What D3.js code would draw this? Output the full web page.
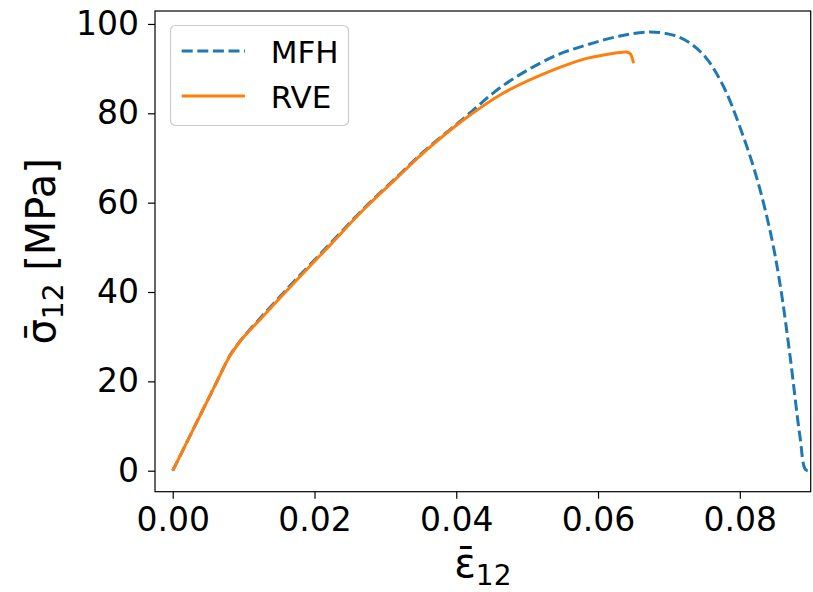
<!DOCTYPE html>
<html>
<head>
<meta charset="utf-8">
<script src="https://cdn.jsdelivr.net/npm/d3@7"></script>
<style>
  html, body { margin: 0; padding: 0; background: #fff; }
  svg { display: block; font-family: "DejaVu Sans", sans-serif; }
</style>
</head>
<body>
<svg id="chart" width="813" height="592"></svg>
<script>
// Shear strain (ε̄12) vs shear stress (σ̄12, MPa)
const mfhStrain = [0, 0.002, 0.004, 0.006, 0.008, 0.0092, 0.0105, 0.0122, 0.0145, 0.0175, 0.0222, 0.0269, 0.0316, 0.0354, 0.041, 0.0466, 0.0537, 0.0584, 0.0631, 0.0673, 0.0706, 0.0730, 0.0753, 0.0777, 0.0800, 0.0824, 0.0845, 0.0858, 0.0871, 0.0885, 0.0893, 0.0900];
const mfhStress = [0, 6.4, 12.8, 19.2, 25.6, 28.4, 30.9, 33.9, 37.9, 43.0, 50.8, 58.6, 65.7, 71.4, 78.8, 86.2, 92.7, 95.3, 97.3, 98.2, 97.5, 95.7, 92.3, 86.0, 77.0, 65.5, 52.0, 40.5, 25.5, 7.5, 0.2, 0];

const rveStrain = [0, 0.002, 0.004, 0.006, 0.008, 0.0092, 0.0105, 0.0122, 0.0145, 0.0175, 0.0222, 0.0269, 0.0316, 0.0354, 0.041, 0.0466, 0.0537, 0.0584, 0.0610, 0.0631, 0.0640, 0.0645, 0.0648, 0.0650];
const rveStress = [0, 6.4, 12.8, 19.2, 25.5, 28.3, 30.8, 33.6, 37.6, 42.7, 50.5, 58.4, 65.5, 71.2, 78.5, 84.5, 89.7, 92.3, 93.1, 93.6, 93.7, 93.4, 92.5, 91.2];

const seriesNames = ["MFH", "RVE"];
const seriesColors = ["#1f77b4", "#ff7f0e"];

const xTicks = [0, 0.02, 0.04, 0.06, 0.08];
const yTicks = [0, 20, 40, 60, 80, 100];

const svg = d3.select("#chart");
const plot = { left: 155, right: 810.7, top: 11, bottom: 491.7 };

const x = d3.scaleLinear().domain([-0.0025, 0.09]).range([plot.left, plot.right]);
const y = d3.scaleLinear().domain([-4.7, 102.9]).range([plot.bottom, plot.top]);

svg.append("defs").append("clipPath").attr("id", "plot-clip")
  .append("rect")
  .attr("x", plot.left).attr("y", plot.top)
  .attr("width", plot.right - plot.left).attr("height", plot.bottom - plot.top);

const line = d3.line()
  .x(d => x(d[0]))
  .y(d => y(d[1]))
  .curve(d3.curveCatmullRom.alpha(0.5));

const mfh = mfhStrain.map((v, i) => [v, mfhStress[i]]);
const rve = rveStrain.map((v, i) => [v, rveStress[i]]);

const curves = svg.append("g").attr("clip-path", "url(#plot-clip)");
curves.append("path")
  .datum(mfh)
  .attr("d", line)
  .attr("fill", "none")
  .attr("stroke", seriesColors[0])
  .attr("stroke-width", 3)
  .attr("stroke-dasharray", "11,4.6");
curves.append("path")
  .datum(rve)
  .attr("d", line)
  .attr("fill", "none")
  .attr("stroke", seriesColors[1])
  .attr("stroke-width", 3);

// Axes
const xAxis = d3.axisBottom(x).tickValues(xTicks).tickFormat(d3.format(".2f")).tickSize(7).tickPadding(9);
const yAxis = d3.axisLeft(y).tickValues(yTicks).tickFormat(d3.format("d")).tickSize(7).tickPadding(9);

const gx = svg.append("g").attr("transform", `translate(0,${plot.bottom})`).call(xAxis);
const gy = svg.append("g").attr("transform", `translate(${plot.left},0)`).call(yAxis);
[gx, gy].forEach(g => {
  g.select(".domain").remove();
  g.selectAll(".tick line").attr("stroke", "#000").attr("stroke-width", 1.2);
  g.selectAll(".tick text").attr("fill", "#000").style("font-size", "33px").style("font-family", "DejaVu Sans");
});

// Frame
svg.append("rect")
  .attr("x", plot.left).attr("y", plot.top)
  .attr("width", plot.right - plot.left).attr("height", plot.bottom - plot.top)
  .attr("fill", "none").attr("stroke", "#000").attr("stroke-width", 1.2);

// Axis labels
const xl = svg.append("text")
  .attr("x", (plot.left + plot.right) / 2)
  .attr("y", 577)
  .attr("text-anchor", "middle")
  .style("font-size", "40px");
xl.append("tspan").text("ε\u0304");
xl.append("tspan").attr("dy", 8).style("font-size", "28px").text("12");

const yl = svg.append("text")
  .attr("transform", `translate(55,${(plot.top + plot.bottom) / 2}) rotate(-90)`)
  .attr("text-anchor", "middle")
  .style("font-size", "40px");
yl.append("tspan").text("σ\u0304");
yl.append("tspan").attr("dy", 8).style("font-size", "28px").text("12");
yl.append("tspan").attr("dy", -8).text(" [MPa]");

// Legend
const legend = svg.append("g");
legend.append("rect")
  .attr("x", 170.5).attr("y", 25.5).attr("width", 178).attr("height", 100)
  .attr("rx", 5).attr("ry", 5)
  .attr("fill", "#fff").attr("fill-opacity", 0.8)
  .attr("stroke", "#cccccc").attr("stroke-width", 1.2);

const legendRows = [
  { y: 51, dash: "11,4.6" },
  { y: 96, dash: null }
];
legendRows.forEach((r, i) => {
  const l = legend.append("line")
    .attr("x1", 181.7).attr("x2", 245)
    .attr("y1", r.y).attr("y2", r.y)
    .attr("stroke", seriesColors[i]).attr("stroke-width", 3);
  if (r.dash) l.attr("stroke-dasharray", r.dash);
  legend.append("text")
    .attr("x", 270.7).attr("y", r.y + 12)
    .style("font-size", "31px")
    .text(seriesNames[i]);
});
</script>
</body>
</html>
